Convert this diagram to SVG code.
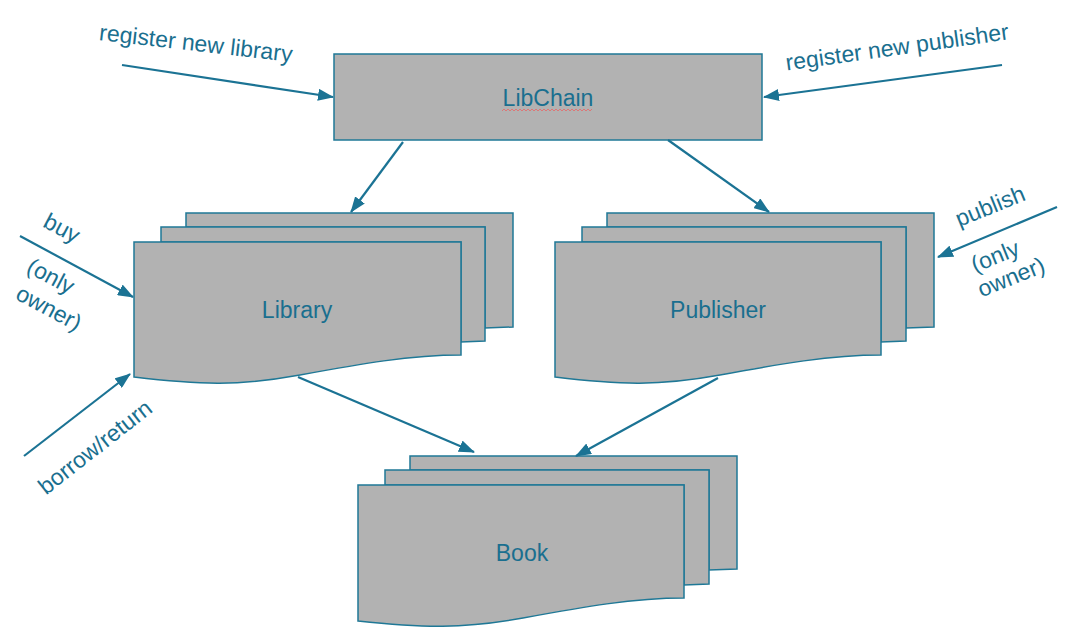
<svg xmlns="http://www.w3.org/2000/svg" width="1073" height="638" viewBox="0 0 1073 638">
<style>
.box{fill:#b2b2b2;stroke:#1f7896;stroke-width:1.5}
.lbl{font-family:"Liberation Sans",Arial,sans-serif;font-size:23px;fill:#1a6f8f;text-anchor:middle}
.con{stroke:#1b7394;stroke-width:2.2;fill:none;marker-end:url(#ah)}
</style>
<defs>
<marker id="ah" markerUnits="userSpaceOnUse" markerWidth="16" markerHeight="12" refX="15" refY="6" orient="auto">
<path d="M0,0 L16,6 L0,12 Z" fill="#1b7394"/>
</marker>
</defs>
<rect width="1073" height="638" fill="#ffffff"/>

<g id="libchain">
<rect class="box" x="334" y="54" width="428" height="86"/>
<text class="lbl" x="548" y="106">LibChain</text>
<path d="M502,111 l2,-2 l2,2 l2,-2 l2,2 l2,-2 l2,2 l2,-2 l2,2 l2,-2 l2,2 l2,-2 l2,2 l2,-2 l2,2 l2,-2 l2,2 l2,-2 l2,2 l2,-2 l2,2 l2,-2 l2,2 l2,-2 l2,2 l2,-2 l2,2 l2,-2 l2,2 l2,-2 l2,2 l2,-2 l2,2 l2,-2 l2,2 l2,-2 l2,2 l2,-2 l2,2 l2,-2 l2,2 l2,-2 l2,2 l2,-2 l2,2 l2,-2" fill="none" stroke="#e07070" stroke-width="0.9"/>
</g>

<g id="library">
<path class="box" d="M186,213 H513 V327 L485,328 V227 H186 Z"/>
<path class="box" d="M161,227 H485 V341 L461,342 V242 H161 Z"/>
<path class="box" d="M134,242 H461 V355 C410,355 360,364 300,375 C240,386 200,385 134,377 Z"/>
<text class="lbl" x="297" y="318">Library</text>
</g>

<g id="publisher">
<path class="box" d="M607,213 H934 V327 L906,328 V227 H607 Z"/>
<path class="box" d="M582,227 H906 V341 L881,342 V242 H582 Z"/>
<path class="box" d="M555,242 H881 V355 C830,355 780,364 720,375 C660,386 620,385 555,377 Z"/>
<text class="lbl" x="718" y="318">Publisher</text>
</g>

<g id="book">
<path class="box" d="M410,456 H737 V569 L709,570 V470 H410 Z"/>
<path class="box" d="M385,470 H709 V584 L684,585 V485 H385 Z"/>
<path class="box" d="M358,485 H684 V598 C633,598 583,607 523,618 C463,629 423,628 358,621 Z"/>
<text class="lbl" x="522" y="561">Book</text>
</g>

<g id="connectors">
<line class="con" x1="122" y1="65" x2="333" y2="97"/>
<line class="con" x1="1002" y1="65" x2="764" y2="97"/>
<line class="con" x1="403" y1="142" x2="351" y2="212"/>
<line class="con" x1="668" y1="140" x2="769" y2="212"/>
<line class="con" x1="20" y1="236" x2="133" y2="297"/>
<line class="con" x1="24" y1="456" x2="130" y2="374"/>
<line class="con" x1="1057" y1="207" x2="938" y2="257"/>
<line class="con" x1="298" y1="377" x2="474" y2="452"/>
<line class="con" x1="718" y1="378" x2="576" y2="456"/>
</g>

<g id="labels">
<text class="lbl" transform="translate(196,43) rotate(6.5)" y="8">register new library</text>
<text class="lbl" transform="translate(897,47) rotate(-8)" y="8">register new publisher</text>
<text class="lbl" transform="translate(62,228) rotate(28)" y="8">buy</text>
<text class="lbl" transform="translate(51,276) rotate(28)" y="8">(only</text>
<text class="lbl" transform="translate(49,308) rotate(28)" y="8">owner)</text>
<text class="lbl" transform="translate(95,447) rotate(-38)" y="8">borrow/return</text>
<text class="lbl" transform="translate(990,206) rotate(-22)" y="8">publish</text>
<text class="lbl" transform="translate(995,256) rotate(-22)" y="8">(only</text>
<text class="lbl" transform="translate(1011,277) rotate(-22)" y="8">owner)</text>
</g>
</svg>
